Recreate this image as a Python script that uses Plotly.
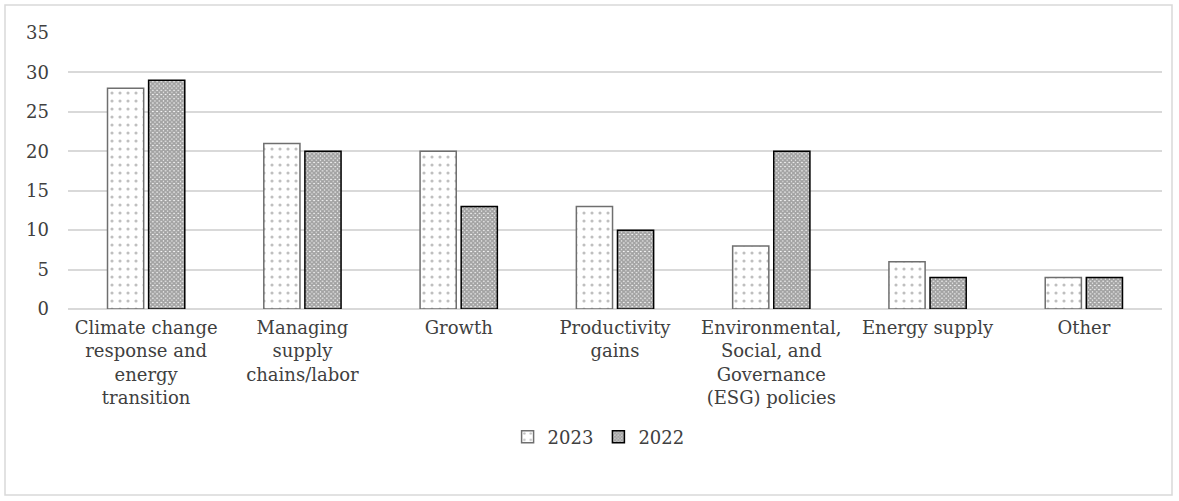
import plotly.graph_objects as go

categories = [
    "Climate change<br>response and<br>energy<br>transition",
    "Managing<br>supply<br>chains/labor",
    "Growth",
    "Productivity<br>gains",
    "Environmental,<br>Social, and<br>Governance<br>(ESG) policies",
    "Energy supply",
    "Other",
]
values_2023 = [28, 21, 20, 13, 8, 6, 4]
values_2022 = [29, 20, 13, 10, 20, 4, 4]
y_ticks = [0, 5, 10, 15, 20, 25, 30, 35]

FONT = "DejaVu Serif"

fig = go.Figure()
fig.add_trace(go.Bar(
    name="2023", x=categories, y=values_2023,
    marker=dict(color="white", line=dict(color="#6f6f6f", width=1.5),
                pattern=dict(shape=".", fgcolor="#7f7f7f", bgcolor="white", size=8, solidity=0.12)),
))
fig.add_trace(go.Bar(
    name="2022", x=categories, y=values_2022,
    marker=dict(color="white", line=dict(color="black", width=1.5),
                pattern=dict(shape="x", fgcolor="#454545", bgcolor="white", size=3, solidity=0.85)),
))

W, H = 1179, 501
ml, mr, mt, mb = 68, 17, 33, 192
pw, ph = W - ml - mr, H - mt - mb
def px(x): return (x - ml) / pw
def py(y): return (H - mb - y) / ph

fig.add_shape(type="rect", xref="paper", yref="paper",
              x0=px(5), x1=px(1172), y0=py(495), y1=py(5),
              line=dict(color="#d9d9d9", width=1.5), fillcolor="rgba(0,0,0,0)", layer="below")

fig.update_layout(
    width=W, height=H,
    margin=dict(l=ml, r=mr, t=mt, b=mb),
    paper_bgcolor="white", plot_bgcolor="white",
    barmode="group", bargap=0.474, bargroupgap=0.12,
    font=dict(family=FONT, size=18, color="#404040"),
    showlegend=True,
    legend=dict(orientation="h", x=0.485, xanchor="center", y=py(437), yanchor="middle",
                font=dict(family=FONT, size=18, color="#404040"), itemwidth=30, traceorder="normal"),
    xaxis=dict(showgrid=False, showline=False, ticks="", ticklabelstandoff=6,
               tickfont=dict(family=FONT, size=18, color="#404040")),
    yaxis=dict(range=[0, 35], tickvals=y_ticks, showgrid=True, gridcolor="#d9d9d9", gridwidth=1.5,
               zeroline=True, zerolinecolor="#d9d9d9", zerolinewidth=1.5, showline=False,
               ticks="", ticklabelstandoff=18, tickfont=dict(family=FONT, size=18, color="#404040")),
)

fig.write_html("out.html")
